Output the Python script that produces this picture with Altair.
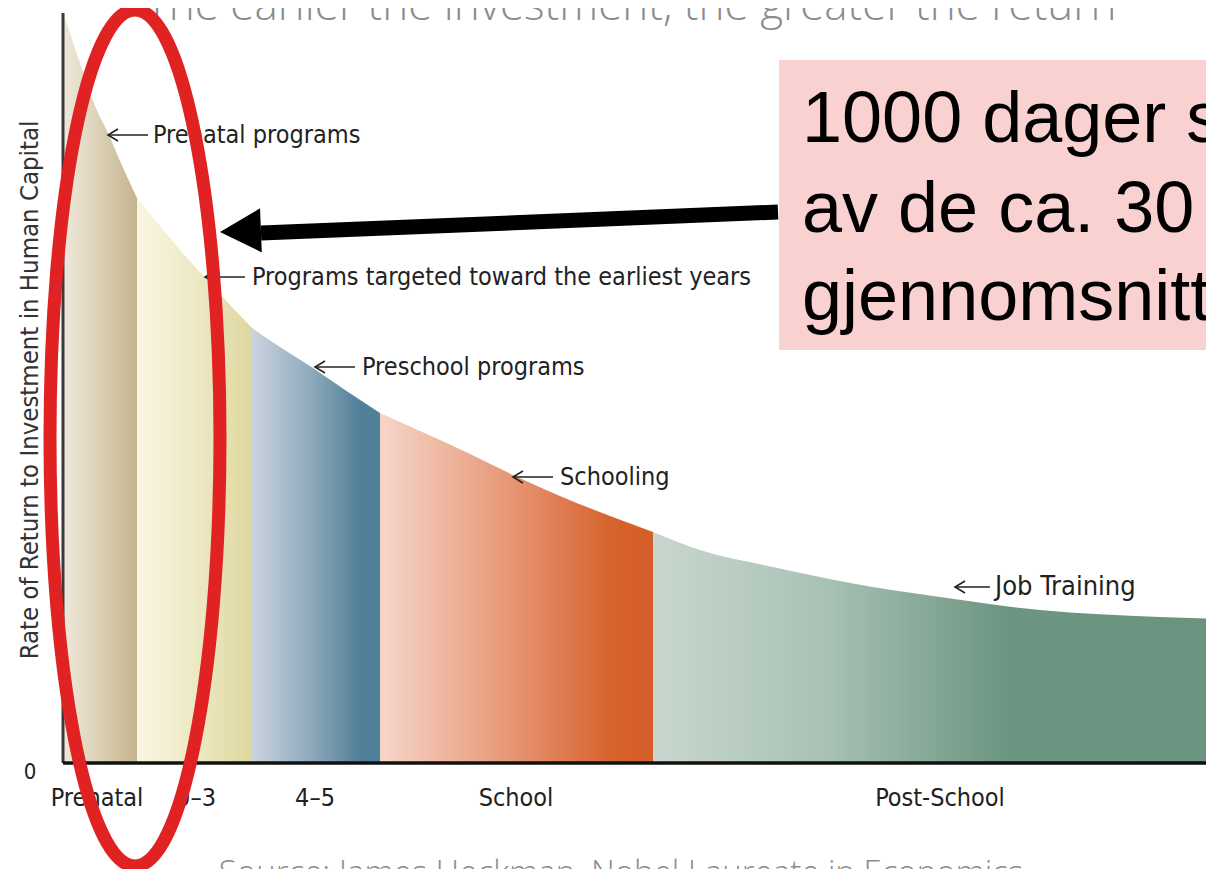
import altair as alt
import pandas as pd

# ---------------- data ----------------
# x: position along the life-cycle axis (0 = axis origin), y: rate of return (0 = baseline)
curve_x = [0, 0.04, 0.12, 0.22, 0.32, 0.45, 0.57, 0.74, 0.97, 1.17, 1.44, 1.67, 1.89, 2.17, 2.50,
           2.82, 3.17, 3.57, 4.07, 4.50, 4.97, 5.47, 5.90, 6.37, 7.10, 7.87, 8.77, 9.77, 10.97, 11.57]
curve_y = [7.50, 7.39, 7.15, 6.85, 6.57, 6.30, 6.02, 5.65, 5.37, 5.13, 4.83, 4.58, 4.35, 4.16, 3.95,
           3.73, 3.50, 3.32, 3.09, 2.88, 2.67, 2.47, 2.31, 2.13, 1.96, 1.80, 1.66, 1.53, 1.46, 1.44]

band_names = ["Prenatal", "0–3", "4–5", "School", "Post-School"]
band_edges = [0, 0.74, 1.89, 3.17, 5.90, 11.57]
band_label_x = [0.34, 1.33, 2.52, 4.53, 8.77]
band_stops = [
    [(0, "#efe9dc"), (0.35, "#e2d8c0"), (1, "#c4b38d")],
    [(0, "#f8f6e3"), (0.5, "#ede9c4"), (1, "#dfd7a0")],
    [(0, "#ccd4df"), (0.5, "#88a5b8"), (0.85, "#507f97"), (1, "#4e8198")],
    [(0, "#f6d6c9"), (0.45, "#e89a7a"), (0.85, "#d6622d"), (1, "#d45e29")],
    [(0, "#c8d7cf"), (0.3, "#a9c2b5"), (0.62, "#6c9682"), (1, "#6a9380")],
]

ann_labels = ["Prenatal programs", "Programs targeted toward the earliest years",
              "Preschool programs", "Schooling", "Job Training"]
ann_tip_x = [0.45, 1.42, 2.52, 4.50, 8.92]
ann_end_x = [0.85, 1.82, 2.92, 4.90, 9.27]
ann_text_x = [0.90, 1.89, 2.99, 4.97, 9.32]
ann_y = [6.28, 4.86, 3.96, 2.86, 1.76]
ann_font = [25, 25, 25, 25, 27]

y_title = "Rate of Return to Investment in Human Capital"
top_title = "The earlier the investment, the greater the return"
source_text = "Source: James Heckman, Nobel Laureate in Economics"

box_x = [7.16, 11.6]
box_y = [4.13, 7.03]
box_lines = ["1000 dager som utgjør ca. 3 %", "av de ca. 30 000 dagene vi lever i", "gjennomsnitt"]
box_line_y = [6.21, 5.31, 4.43]
box_text_x = 7.39

arrow_tail = (7.15, 5.51)
arrow_head_base = (1.98, 5.30)
arrow_tip = (1.57, 5.31)

ellipse_center = (0.72, 3.25)

# ---------------- layout ----------------
W, H = 1198, 861
xs = alt.Scale(domain=[-0.55, 11.43], nice=False, zero=False)
ys = alt.Scale(domain=[-1.06, 7.55], nice=False, zero=False)


def X(f):
    return alt.X(f, type="quantitative", scale=xs, axis=None)


def Y(f):
    return alt.Y(f, type="quantitative", scale=ys, axis=None)


LABEL_FONT = "DejaVu Sans Condensed, DejaVu Sans, sans-serif"

layers = []

# bands under the curve
for i, name in enumerate(band_names):
    lo, hi = band_edges[i], band_edges[i + 1]
    seg = pd.DataFrame({"x": curve_x, "y": curve_y})
    seg = seg[(seg.x >= lo - 1e-9) & (seg.x <= hi + 1e-9)]
    grad = alt.Gradient(
        gradient="linear", x1=0, x2=1, y1=0, y2=0,
        stops=[alt.GradientStop(offset=o, color=c) for o, c in band_stops[i]],
    )
    layers.append(
        alt.Chart(seg).mark_area(color=grad, interpolate="monotone").encode(
            x=X("x"), y=Y("y"), y2=alt.datum(0)
        )
    )

# axes lines
layers.append(
    alt.Chart(pd.DataFrame({"x": [0], "y": [0], "y2": [curve_y[0]]})).mark_rule(
        color="#3a3a3a", strokeWidth=3
    ).encode(x=X("x"), y=Y("y"), y2="y2")
)
layers.append(
    alt.Chart(pd.DataFrame({"x": [0], "x2": [11.6], "y": [0]})).mark_rule(
        color="#111111", strokeWidth=3.5
    ).encode(x=X("x"), x2="x2", y=Y("y"))
)

# stage labels
layers.append(
    alt.Chart(pd.DataFrame({"x": band_label_x, "y": [-0.35] * 5, "t": band_names})).mark_text(
        font=LABEL_FONT, fontSize=25, color="#222222", align="center", baseline="middle"
    ).encode(x=X("x"), y=Y("y"), text="t:N")
)
# zero label
layers.append(
    alt.Chart(pd.DataFrame({"x": [-0.33], "y": [-0.09], "t": ["0"]})).mark_text(
        font=LABEL_FONT, fontSize=22, color="#222222", align="center", baseline="middle"
    ).encode(x=X("x"), y=Y("y"), text="t:N")
)
# y title
layers.append(
    alt.Chart(pd.DataFrame({"x": [-0.33], "y": [3.73], "t": [y_title]})).mark_text(
        font=LABEL_FONT, fontSize=25.5, color="#333333", align="center", baseline="middle", angle=270
    ).encode(x=X("x"), y=Y("y"), text="t:N")
)

# annotations with arrows
ann = pd.DataFrame({"tip": ann_tip_x, "end": ann_end_x, "tx": ann_text_x, "y": ann_y,
                    "t": ann_labels, "fs": ann_font})
layers.append(
    alt.Chart(ann).mark_rule(color="#222222", strokeWidth=1.6).encode(x=X("tip"), x2="end", y=Y("y"))
)
layers.append(
    alt.Chart(ann).mark_point(
        shape="M 2,-1.2 L 0,0 L 2,1.2", size=100, filled=False, color="#222222", strokeWidth=1.6, opacity=1
    ).encode(x=X("tip"), y=Y("y"))
)
layers.append(
    alt.Chart(ann).mark_text(
        font=LABEL_FONT, color="#222222", align="left", baseline="middle"
    ).encode(x=X("tx"), y=Y("y"), text="t:N", size=alt.Size("fs:Q", scale=None, legend=None))
)

# top title & source (cut by the frame)
layers.append(
    alt.Chart(pd.DataFrame({"x": [5.68], "y": [7.43], "t": [top_title]})).mark_text(
        font="Open Sans", fontWeight=300, fontSize=44, color="#8c8c8c", align="center", baseline="alphabetic"
    ).encode(x=X("x"), y=Y("y"), text="t:N")
)
layers.append(
    alt.Chart(pd.DataFrame({"x": [5.58], "y": [-0.95], "t": [source_text]})).mark_text(
        font="Open Sans", fontWeight=300, fontSize=33, color="#8c8c8c", align="center", baseline="top"
    ).encode(x=X("x"), y=Y("y"), text="t:N")
)

# pink box with text
layers.append(
    alt.Chart(pd.DataFrame({"x": [box_x[0]], "x2": [box_x[1]], "y": [box_y[0]], "y2": [box_y[1]]})).mark_rect(
        color="#f9d1d1"
    ).encode(x=X("x"), x2="x2", y=Y("y"), y2="y2")
)
layers.append(
    alt.Chart(pd.DataFrame({"x": [box_text_x] * 3, "y": box_line_y, "t": box_lines})).mark_text(
        font="Liberation Sans, Arial, sans-serif", fontSize=72, color="#000000", align="left", baseline="alphabetic"
    ).encode(x=X("x"), y=Y("y"), text="t:N")
)

# red ellipse
layers.append(
    alt.Chart(pd.DataFrame({"x": [ellipse_center[0]], "y": [ellipse_center[1]]})).mark_point(
        shape="M -0.1986,0 A 0.1986,1 0 1,1 0.1986,0 A 0.1986,1 0 1,1 -0.1986,0 Z",
        size=856 * 856, filled=False, color="#e02222", strokeWidth=13, opacity=1
    ).encode(x=X("x"), y=Y("y"))
)

# black arrow
layers.append(
    alt.Chart(pd.DataFrame({"x": [arrow_head_base[0]], "y": [arrow_head_base[1]],
                            "x2": [arrow_tail[0]], "y2": [arrow_tail[1]]})).mark_rule(
        color="#000000", strokeWidth=15
    ).encode(x=X("x"), y=Y("y"), x2="x2", y2="y2")
)
layers.append(
    alt.Chart(pd.DataFrame({"x": [arrow_tip[0]], "y": [arrow_tip[1]]})).mark_point(
        shape="M 0,0 L 1.95,-1.05 L 1.95,1.05 Z", size=1764, filled=True, color="#000000",
        opacity=1, angle=357.7, strokeWidth=0
    ).encode(x=X("x"), y=Y("y"))
)

chart = alt.layer(*layers).properties(
    width=W, height=H, autosize=alt.AutoSizeParams(type="none"), padding=0, background="white"
).configure_view(stroke=None)

chart.save("out.html", embed_options={"renderer": "svg", "actions": False})
